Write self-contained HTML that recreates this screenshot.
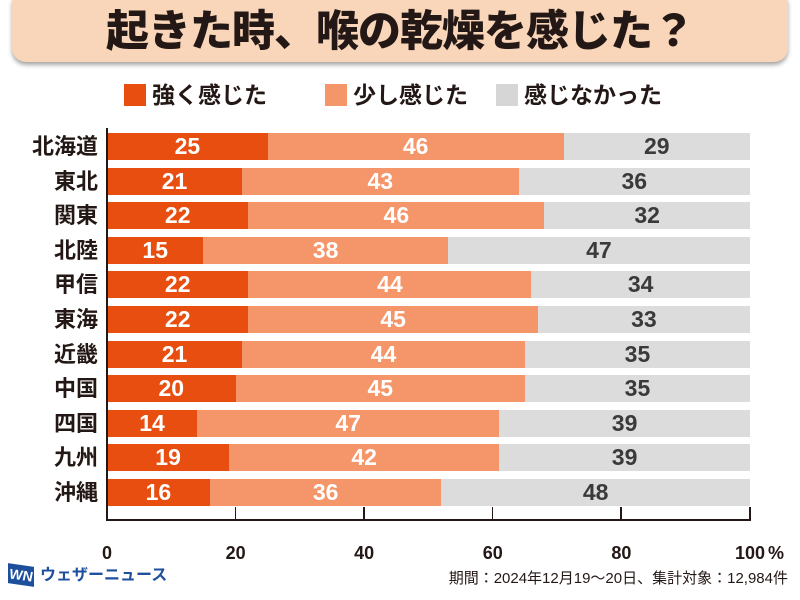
<!DOCTYPE html>
<html><head><meta charset="utf-8"><style>
body{margin:0;width:800px;height:600px;background:#fff;position:relative;overflow:hidden;font-family:"Liberation Sans","Noto Sans CJK JP",sans-serif;}
.a{position:absolute}
.title{left:12px;top:-10px;width:776px;height:72px;background:#f9d6b9;border-radius:14px;box-shadow:0 3px 4px rgba(0,0,0,.35);text-align:center;font-weight:900;font-size:43px;line-height:84px;color:#231815;letter-spacing:-1px}
.lg{top:84px;width:22px;height:22px}
.lt{top:80px;font-size:23px;font-weight:700;color:#231815;line-height:30px}
.lab{left:0;width:98px;text-align:right;font-size:22px;font-weight:700;color:#231815;line-height:27px}
.bar{height:27px;line-height:27px;text-align:center;font-size:23px;font-weight:700}
.s{background:#e84e0f;color:#fff}.m{background:#f4956a;color:#fff}.n{background:#dcdcdc;color:#3a3a3a}
.tk{top:543px;font-size:18px;font-weight:700;color:#231815;width:60px;text-align:center;line-height:20px}
</style></head><body>
<div class="a title">起きた時、喉の乾燥を感じた？</div>
<div class="a lg" style="left:124px;background:#e84e0f"></div><div class="a lt" style="left:152px">強く感じた</div>
<div class="a lg" style="left:325px;background:#f4956a"></div><div class="a lt" style="left:353px">少し感じた</div>
<div class="a lg" style="left:496px;background:#d6d6d6"></div><div class="a lt" style="left:524px">感じなかった</div>
<div id="c"></div>
<div class="a" style="left:106px;top:128px;width:2px;height:392px;background:#231815"></div>
<div class="a" style="left:106px;top:519px;width:645px;height:2px;background:#231815"></div>
<div id="t"></div>
<div class="a" style="left:8px;top:565px;width:26px;height:20px;background:#1d4f9c;color:#fff;font-weight:900;font-style:italic;font-size:14px;line-height:20px;text-align:center;transform:skewY(8deg)">WN</div>
<div class="a" style="left:40px;top:566px;font-size:16px;font-weight:700;color:#1d4f9c;line-height:20px">ウェザーニュース</div>
<div class="a" style="right:12px;top:569px;font-size:15px;color:#231815;line-height:20px">期間：2024年12月19～20日、集計対象：12,984件</div>
<script>
var d=[["北海道",25,46,29],["東北",21,43,36],["関東",22,46,32],["北陸",15,38,47],["甲信",22,44,34],["東海",22,45,33],["近畿",21,44,35],["中国",20,45,35],["四国",14,47,39],["九州",19,42,39],["沖縄",16,36,48]];
var h="",x0=107,w=6.43;
d.forEach(function(r,i){var y=133+i*34.6;
h+='<div class="a lab" style="top:'+y+'px">'+r[0]+'</div>';
var x=x0;[["s",r[1]],["m",r[2]],["n",r[3]]].forEach(function(p){h+='<div class="a bar '+p[0]+'" style="left:'+x+'px;top:'+y+'px;width:'+(p[1]*w)+'px">'+p[1]+'</div>';x+=p[1]*w;});});
document.getElementById("c").innerHTML=h;
var t="";[0,20,40,60,80,100].forEach(function(v){var x=x0+v*w;
if(v>0)t+='<div class="a" style="left:'+(x-1)+'px;top:507px;width:1.5px;height:13px;background:#231815"></div>';
t+='<div class="a tk" style="left:'+(x-30)+'px">'+v+'</div>';});
t+='<div class="a tk" style="left:768px;width:20px;text-align:left">%</div>';
document.getElementById("t").innerHTML=t;
</script>
</body></html>
